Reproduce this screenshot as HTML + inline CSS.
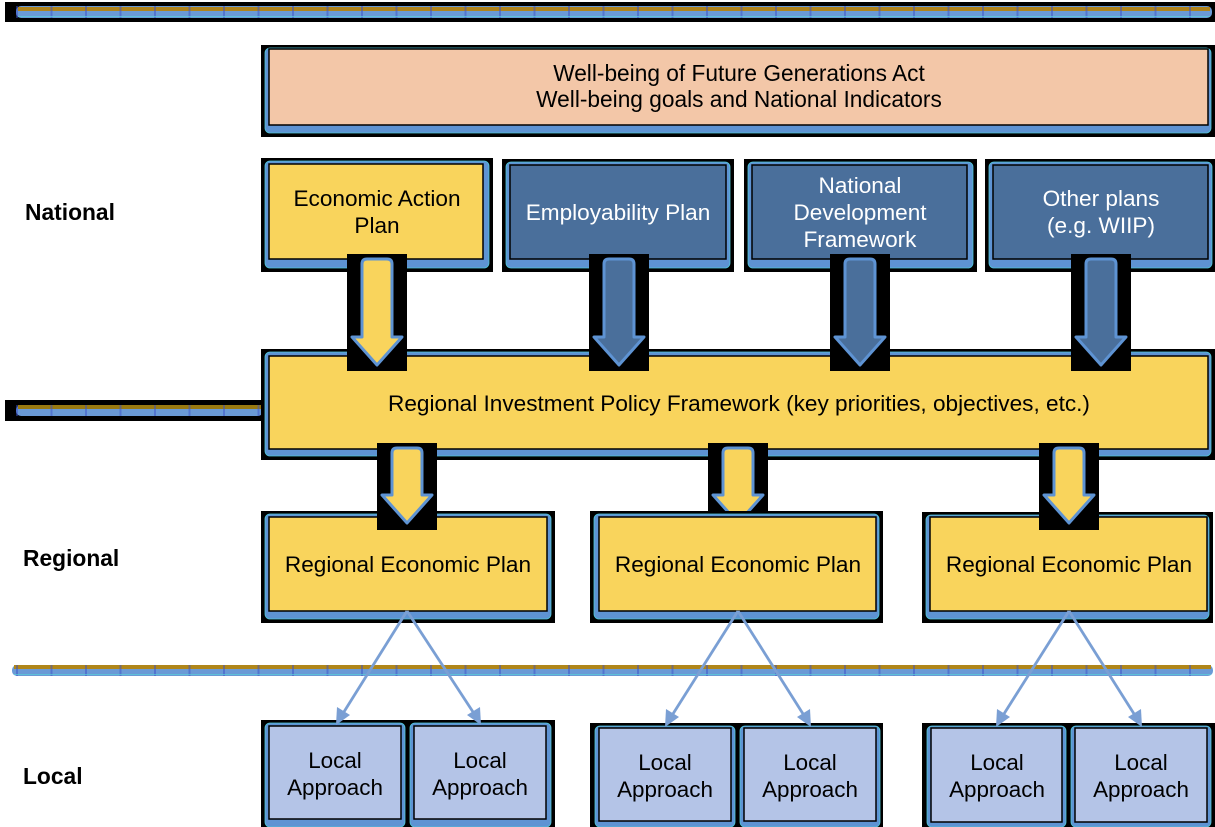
<!DOCTYPE html>
<html><head><meta charset="utf-8"><style>
html,body{margin:0;padding:0;background:#fff;}
svg{display:block;}
text{font-family:"Liberation Sans",Arial,sans-serif;}
</style></head><body>
<svg width="1215" height="827" viewBox="0 0 1215 827" xmlns="http://www.w3.org/2000/svg">
<defs>
<pattern id="ticks" x="16" y="0" width="34.5" height="20" patternUnits="userSpaceOnUse">
<rect x="0" y="0" width="2" height="20" fill="#3a4fc8" opacity="0.5"/>
</pattern>
</defs>

<!-- top divider -->
<rect x="5" y="2" width="1210" height="20" fill="#000"/>
<rect x="16" y="6" width="1196" height="12" rx="5" fill="#6a9ad6"/>
<rect x="18" y="7" width="1192" height="4" fill="#b0831a"/>
<rect x="16" y="6" width="1196" height="12" fill="url(#ticks)"/>
<rect x="18" y="16" width="1192" height="1" fill="#58d0d8" opacity="0.7"/>

<!-- mid-left divider -->
<rect x="5" y="400" width="258" height="21" fill="#000"/>
<rect x="16" y="405" width="247" height="11" rx="5" fill="#6a9ad6"/>
<rect x="18" y="405" width="245" height="4" fill="#9a7a10"/>
<rect x="16" y="405" width="247" height="11" fill="url(#ticks)"/>

<!-- bottom divider (no black) -->
<rect x="12" y="665" width="1201" height="11" rx="5" fill="#6a9ad6"/>
<rect x="14" y="665" width="1197" height="4" fill="#b0861a"/>
<rect x="12" y="665" width="1201" height="11" fill="url(#ticks)"/>
<rect x="14" y="674" width="1197" height="1" fill="#58d0d8" opacity="0.7"/>

<!-- Level labels -->
<text x="25" y="220" font-size="22.8" font-weight="bold" fill="#000">National</text>
<text x="23" y="566" font-size="22.8" font-weight="bold" fill="#000">Regional</text>
<text x="23" y="784" font-size="22.8" font-weight="bold" fill="#000">Local</text>

<!-- Act box -->
<rect x="261" y="45" width="954" height="92" fill="#000"/>
<rect x="265" y="48" width="946" height="85" rx="5" fill="#5e93d3" stroke="#4fc8d8" stroke-width="0.8"/>
<rect x="269" y="49" width="939" height="76" fill="#f3c7a8" stroke="#000" stroke-width="1.5"/>
<text x="739" y="81" font-size="22.7" text-anchor="middle" fill="#000">Well-being of Future Generations Act</text>
<text x="739" y="107" font-size="22.7" text-anchor="middle" fill="#000">Well-being goals and National Indicators</text>

<!-- National boxes -->
<rect x="261" y="158" width="232" height="114" fill="#000"/>
<rect x="265" y="161" width="224" height="107" rx="5" fill="#5e93d3" stroke="#4fc8d8" stroke-width="0.8"/>
<rect x="269" y="164" width="214" height="95" fill="#f9d45c" stroke="#000" stroke-width="1.5"/>
<text x="377" y="206" font-size="22.6" text-anchor="middle" fill="#000">Economic Action</text>
<text x="377" y="233" font-size="22.6" text-anchor="middle" fill="#000">Plan</text>

<rect x="502" y="159" width="232" height="113" fill="#000"/>
<rect x="506" y="162" width="224" height="106" rx="5" fill="#5e93d3" stroke="#4fc8d8" stroke-width="0.8"/>
<rect x="510" y="165" width="216" height="94" fill="#4a6f9b" stroke="#000" stroke-width="1.5"/>
<text x="618" y="220" font-size="22.6" text-anchor="middle" fill="#fff">Employability Plan</text>

<rect x="744" y="159" width="233" height="113" fill="#000"/>
<rect x="748" y="162" width="225" height="106" rx="5" fill="#5e93d3" stroke="#4fc8d8" stroke-width="0.8"/>
<rect x="752" y="165" width="215" height="94" fill="#4a6f9b" stroke="#000" stroke-width="1.5"/>
<text x="860" y="193" font-size="22.6" text-anchor="middle" fill="#fff">National</text>
<text x="860" y="220" font-size="22.6" text-anchor="middle" fill="#fff">Development</text>
<text x="860" y="247" font-size="22.6" text-anchor="middle" fill="#fff">Framework</text>

<rect x="985" y="159" width="230" height="113" fill="#000"/>
<rect x="989" y="162" width="223" height="106" rx="5" fill="#5e93d3" stroke="#4fc8d8" stroke-width="0.8"/>
<rect x="993" y="165" width="215" height="94" fill="#4a6f9b" stroke="#000" stroke-width="1.5"/>
<text x="1101" y="206" font-size="22.6" text-anchor="middle" fill="#fff">Other plans</text>
<text x="1101" y="233" font-size="22.6" text-anchor="middle" fill="#fff">(e.g. WIIP)</text>

<!-- Regional Investment Policy Framework -->
<rect x="261" y="349" width="954" height="111" fill="#000"/>
<rect x="265" y="352" width="946" height="104" rx="5" fill="#5e93d3" stroke="#4fc8d8" stroke-width="0.8"/>
<rect x="269" y="356" width="939" height="93" fill="#f9d45c" stroke="#000" stroke-width="1.5"/>
<text x="739" y="411" font-size="22.6" text-anchor="middle" fill="#000">Regional Investment Policy Framework (key priorities, objectives, etc.)</text>

<!-- National arrows -->
<g stroke="#5e93d3" stroke-width="3" stroke-linejoin="round">
<rect x="347" y="254" width="60" height="117" fill="#000" stroke="none"/>
<path d="M362,264 Q362,259 367,259 L387,259 Q392,259 392,264 L392,337 L402,337 L377,365 L352,337 L362,337 Z" fill="#f9d45c"/>
<rect x="589" y="254" width="60" height="117" fill="#000" stroke="none"/>
<path d="M604,264 Q604,259 609,259 L629,259 Q634,259 634,264 L634,337 L644,337 L619,365 L594,337 L604,337 Z" fill="#4a6f9b"/>
<rect x="830" y="254" width="60" height="117" fill="#000" stroke="none"/>
<path d="M845,264 Q845,259 850,259 L870,259 Q875,259 875,264 L875,337 L885,337 L860,365 L835,337 L845,337 Z" fill="#4a6f9b"/>
<rect x="1071" y="254" width="60" height="117" fill="#000" stroke="none"/>
<path d="M1086,264 Q1086,259 1091,259 L1111,259 Q1116,259 1116,264 L1116,337 L1126,337 L1101,365 L1076,337 L1086,337 Z" fill="#4a6f9b"/>
</g>

<!-- Regional arrows (middle behind box) -->
<g stroke="#5e93d3" stroke-width="3" stroke-linejoin="round">
<rect x="708" y="443" width="60" height="87" fill="#000" stroke="none"/>
<path d="M723,453 Q723,448 728,448 L748,448 Q753,448 753,453 L753,495 L763,495 L738,523 L713,495 L723,495 Z" fill="#f9d45c"/>
</g>

<!-- Regional Economic Plans -->
<rect x="261" y="511" width="294" height="112" fill="#000"/>
<rect x="265" y="514" width="286" height="105" rx="5" fill="#5e93d3" stroke="#4fc8d8" stroke-width="0.8"/>
<rect x="269" y="517" width="278" height="94" fill="#f9d45c" stroke="#000" stroke-width="1.5"/>
<text x="408" y="572" font-size="22.6" text-anchor="middle" fill="#000">Regional Economic Plan</text>

<rect x="590" y="511" width="293" height="112" fill="#000"/>
<rect x="594" y="514" width="285" height="105" rx="5" fill="#5e93d3" stroke="#4fc8d8" stroke-width="0.8"/>
<rect x="599" y="517" width="277" height="94" fill="#f9d45c" stroke="#000" stroke-width="1.5"/>
<text x="738" y="572" font-size="22.6" text-anchor="middle" fill="#000">Regional Economic Plan</text>

<rect x="922" y="512" width="291" height="111" fill="#000"/>
<rect x="926" y="515" width="283" height="104" rx="5" fill="#5e93d3" stroke="#4fc8d8" stroke-width="0.8"/>
<rect x="930" y="517" width="277" height="94" fill="#f9d45c" stroke="#000" stroke-width="1.5"/>
<text x="1069" y="572" font-size="22.6" text-anchor="middle" fill="#000">Regional Economic Plan</text>

<!-- Regional arrows on top -->
<g stroke="#5e93d3" stroke-width="3" stroke-linejoin="round">
<rect x="377" y="443" width="60" height="87" fill="#000" stroke="none"/>
<path d="M392,453 Q392,448 397,448 L417,448 Q422,448 422,453 L422,495 L432,495 L407,523 L382,495 L392,495 Z" fill="#f9d45c"/>
<rect x="1039" y="443" width="60" height="87" fill="#000" stroke="none"/>
<path d="M1054,453 Q1054,448 1059,448 L1079,448 Q1084,448 1084,453 L1084,495 L1094,495 L1069,523 L1044,495 L1054,495 Z" fill="#f9d45c"/>
</g>

<!-- Local boxes -->
<rect x="261" y="720" width="294" height="107" fill="#000"/>
<rect x="265" y="723" width="140" height="104" rx="5" fill="#5e93d3" stroke="#4fc8d8" stroke-width="0.8"/>
<rect x="269" y="726" width="132" height="93" fill="#b4c4e7" stroke="#000" stroke-width="1.5"/>
<rect x="410" y="723" width="141" height="104" rx="5" fill="#5e93d3" stroke="#4fc8d8" stroke-width="0.8"/>
<rect x="414" y="726" width="132" height="93" fill="#b4c4e7" stroke="#000" stroke-width="1.5"/>
<text x="335" y="768" font-size="22.4" text-anchor="middle" fill="#000">Local</text>
<text x="335" y="795" font-size="22.4" text-anchor="middle" fill="#000">Approach</text>
<text x="480" y="768" font-size="22.4" text-anchor="middle" fill="#000">Local</text>
<text x="480" y="795" font-size="22.4" text-anchor="middle" fill="#000">Approach</text>

<rect x="590" y="723" width="293" height="104" fill="#000"/>
<rect x="595" y="726" width="140" height="101" rx="5" fill="#5e93d3" stroke="#4fc8d8" stroke-width="0.8"/>
<rect x="599" y="728" width="132" height="93" fill="#b4c4e7" stroke="#000" stroke-width="1.5"/>
<rect x="740" y="726" width="140" height="101" rx="5" fill="#5e93d3" stroke="#4fc8d8" stroke-width="0.8"/>
<rect x="744" y="728" width="132" height="93" fill="#b4c4e7" stroke="#000" stroke-width="1.5"/>
<text x="665" y="770" font-size="22.4" text-anchor="middle" fill="#000">Local</text>
<text x="665" y="797" font-size="22.4" text-anchor="middle" fill="#000">Approach</text>
<text x="810" y="770" font-size="22.4" text-anchor="middle" fill="#000">Local</text>
<text x="810" y="797" font-size="22.4" text-anchor="middle" fill="#000">Approach</text>

<rect x="922" y="723" width="293" height="104" fill="#000"/>
<rect x="927" y="726" width="139" height="101" rx="5" fill="#5e93d3" stroke="#4fc8d8" stroke-width="0.8"/>
<rect x="931" y="728" width="131" height="94" fill="#b4c4e7" stroke="#000" stroke-width="1.5"/>
<rect x="1071" y="726" width="140" height="101" rx="5" fill="#5e93d3" stroke="#4fc8d8" stroke-width="0.8"/>
<rect x="1075" y="728" width="132" height="94" fill="#b4c4e7" stroke="#000" stroke-width="1.5"/>
<text x="997" y="770" font-size="22.4" text-anchor="middle" fill="#000">Local</text>
<text x="997" y="797" font-size="22.4" text-anchor="middle" fill="#000">Approach</text>
<text x="1141" y="770" font-size="22.4" text-anchor="middle" fill="#000">Local</text>
<text x="1141" y="797" font-size="22.4" text-anchor="middle" fill="#000">Approach</text>

<!-- Connectors -->
<g stroke="#7a9fd4" stroke-width="2.8" fill="none">
<line x1="407" y1="611" x2="342" y2="715"/>
<line x1="407" y1="611" x2="475" y2="715"/>
<line x1="738" y1="611" x2="671" y2="717"/>
<line x1="738" y1="611" x2="805" y2="717"/>
<line x1="1069" y1="611" x2="1002" y2="717"/>
<line x1="1069" y1="611" x2="1136" y2="717"/>
</g>
<g fill="#7a9fd4">
<polygon points="336,725 337,707 350,715"/>
<polygon points="481,725 467,715 480,707"/>
<polygon points="665,727 666,709 679,717"/>
<polygon points="811,727 797,717 810,709"/>
<polygon points="996,727 997,709 1010,717"/>
<polygon points="1142,727 1128,717 1141,709"/>
</g>
</svg>
</body></html>
